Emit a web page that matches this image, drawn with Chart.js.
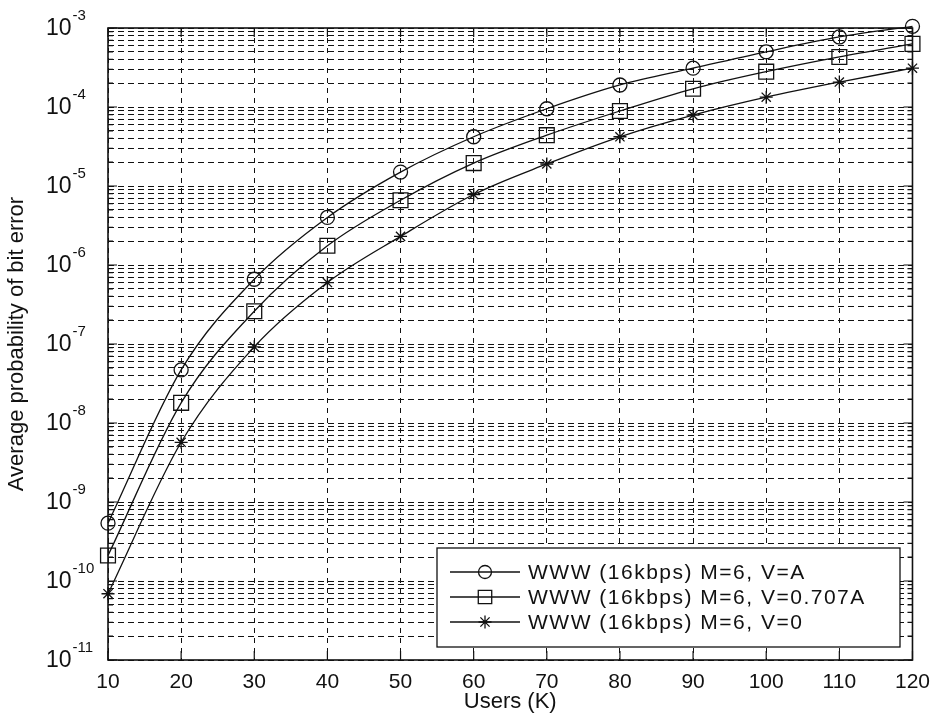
<!DOCTYPE html>
<html>
<head>
<meta charset="utf-8">
<script src="https://cdn.jsdelivr.net/npm/chart.js@4.4.1/dist/chart.umd.min.js"></script>
<style>
  html, body { margin: 0; padding: 0; background: #fff; }
  #wrap { width: 940px; height: 727px; }
</style>
</head>
<body>
<div id="wrap"><canvas id="ber" width="940" height="727"></canvas></div>
<script>
// Number of simultaneous users K
const users = [10, 20, 30, 40, 50, 60, 70, 80, 90, 100, 110, 120];

// Average bit error probability, WWW traffic (16 kbps), M = 6
const berVeqA     = [5.4e-10, 4.7e-8, 6.6e-7, 4.0e-6, 1.5e-5, 4.2e-5, 9.5e-5, 1.9e-4, 3.1e-4, 5.0e-4, 7.7e-4, 1.05e-3];
const berVeq0707A = [2.1e-10, 1.8e-8, 2.6e-7, 1.75e-6, 6.6e-6, 1.95e-5, 4.4e-5, 8.9e-5, 1.7e-4, 2.8e-4, 4.3e-4, 6.3e-4];
const berVeq0     = [6.9e-11, 5.7e-9, 9.2e-8, 6.0e-7, 2.3e-6, 7.8e-6, 1.9e-5, 4.2e-5, 7.9e-5, 1.33e-4, 2.07e-4, 3.1e-4];

const seriesLabels = [
  'WWW (16kbps) M=6, V=A',
  'WWW (16kbps) M=6, V=0.707A',
  'WWW (16kbps) M=6, V=0'
];

// Decade exponents on the y axis
const yExponents = [-11, -10, -9, -8, -7, -6, -5, -4, -3];
const xTicks = users;

const FONT = "'Liberation Sans', Arial, Helvetica, sans-serif";
const INK = '#111';

function toPoints(ys) {
  return users.map((u, i) => ({ x: u, y: ys[i] }));
}

function lineSet(label, ys, style, radius) {
  return {
    label: label,
    data: toPoints(ys),
    borderColor: INK,
    borderWidth: 1.3,
    pointStyle: style,
    pointRadius: radius,
    pointBorderColor: INK,
    pointBorderWidth: 1.3,
    pointBackgroundColor: 'rgba(0,0,0,0)',
    cubicInterpolationMode: 'monotone',
    fill: false,
    clip: false
  };
}

const datasets = [
  lineSet(seriesLabels[0], berVeqA, 'circle', 7),
  lineSet(seriesLabels[1], berVeq0707A, 'rect', 10.5),
  lineSet(seriesLabels[2], berVeq0, 'star', 6.5)
];

// Marker glyphs shared by the legend
function drawMarker(ctx, style, x, y, r) {
  ctx.beginPath();
  if (style === 'circle') {
    ctx.arc(x, y, r, 0, Math.PI * 2);
  } else if (style === 'rect') {
    const s = r * Math.SQRT1_2;
    ctx.rect(x - s, y - s, 2 * s, 2 * s);
  } else if (style === 'star') {
    for (let k = 0; k < 4; k++) {
      const a = k * Math.PI / 4;
      ctx.moveTo(x - Math.cos(a) * r, y - Math.sin(a) * r);
      ctx.lineTo(x + Math.cos(a) * r, y + Math.sin(a) * r);
    }
  }
  ctx.stroke();
}

// Log-axis labels of the form 10^n, box, inward ticks and the legend
const axisDecor = {
  id: 'axisDecor',
  afterDraw(chart) {
    const ctx = chart.ctx;
    const area = chart.chartArea;
    const ys = chart.scales.y;
    const xs = chart.scales.x;

    ctx.save();
    ctx.strokeStyle = INK;
    ctx.fillStyle = INK;

    // inward tick marks
    ctx.lineWidth = 1.2;
    ctx.beginPath();
    xs.ticks.forEach(t => {
      const px = xs.getPixelForValue(t.value);
      ctx.moveTo(px, area.bottom); ctx.lineTo(px, area.bottom - 9);
      ctx.moveTo(px, area.top); ctx.lineTo(px, area.top + 9);
    });
    ys.ticks.forEach(t => {
      const py = ys.getPixelForValue(t.value);
      const major = Math.abs(Math.log10(t.value) - Math.round(Math.log10(t.value))) < 1e-9;
      const len = major ? 9 : 5;
      ctx.moveTo(area.left, py); ctx.lineTo(area.left + len, py);
      ctx.moveTo(area.right, py); ctx.lineTo(area.right - len, py);
    });
    ctx.stroke();

    // axes box
    ctx.lineWidth = 1.6;
    ctx.strokeRect(area.left, area.top, area.right - area.left, area.bottom - area.top);

    // y tick labels 10^n
    ctx.textBaseline = 'middle';
    ctx.textAlign = 'left';
    yExponents.forEach(e => {
      const py = ys.getPixelForValue(Math.pow(10, e));
      ctx.font = '23px ' + FONT;
      const base = '10';
      const x0 = 46;
      ctx.fillText(base, x0, py + 1);
      const w = ctx.measureText(base).width;
      ctx.font = '15px ' + FONT;
      ctx.fillText(String(e), x0 + w + 1, py - 12);
    });

    // legend
    const lg = { left: 437, top: 548, right: 900, bottom: 647 };
    ctx.fillStyle = '#fff';
    ctx.fillRect(lg.left, lg.top, lg.right - lg.left, lg.bottom - lg.top);
    ctx.lineWidth = 1.3;
    ctx.strokeStyle = INK;
    ctx.strokeRect(lg.left, lg.top, lg.right - lg.left, lg.bottom - lg.top);
    ctx.fillStyle = INK;
    ctx.font = '21px ' + FONT;
    if ('letterSpacing' in ctx) ctx.letterSpacing = '1.5px';
    const rowY = [572, 597, 622];
    chart.data.datasets.forEach((ds, i) => {
      const y = rowY[i];
      ctx.lineWidth = 1.3;
      ctx.beginPath();
      ctx.moveTo(450, y); ctx.lineTo(520, y);
      ctx.stroke();
      drawMarker(ctx, ds.pointStyle, 485, y, ds.pointStyle === 'rect' ? 9.5 : (ds.pointStyle === 'circle' ? 6.5 : 6.5));
      ctx.fillText(ds.label, 528, y + 1);
    });
    if ('letterSpacing' in ctx) ctx.letterSpacing = '0px';
    ctx.restore();
  }
};

new Chart(document.getElementById('ber'), {
  type: 'line',
  data: { datasets: datasets },
  options: {
    responsive: false,
    animation: false,
    layout: { padding: { top: 28, right: 25, left: 0, bottom: 0 } },
    plugins: {
      legend: { display: false },
      tooltip: { enabled: false }
    },
    scales: {
      x: {
        type: 'linear',
        min: 10,
        max: 120,
        afterBuildTicks(scale) {
          scale.ticks = xTicks.map(v => ({ value: v }));
        },
        afterFit(scale) { scale.height = 67; },
        ticks: {
          color: INK,
          font: { family: FONT, size: 21 },
          padding: 10,
          maxRotation: 0,
          autoSkip: false,
          callback: v => String(v)
        },
        grid: { color: INK, lineWidth: 1, drawTicks: false },
        border: { display: false, dash: [5, 5] },
        title: {
          display: true,
          text: 'Users (K)',
          color: INK,
          font: { family: FONT, size: 22 },
          padding: { top: 0, bottom: 12 }
        }
      },
      y: {
        type: 'logarithmic',
        min: 1e-11,
        max: 1e-3,
        afterBuildTicks(scale) {
          const t = [];
          for (let e = -11; e < -3; e++) {
            for (let k = 1; k <= 9; k++) t.push({ value: k * Math.pow(10, e) });
          }
          t.push({ value: 1e-3 });
          scale.ticks = t;
        },
        afterFit(scale) { scale.width = 108; },
        ticks: { display: false, autoSkip: false },
        grid: { color: INK, lineWidth: 1, drawTicks: false },
        border: { display: false, dash: [6, 4] },
        title: {
          display: true,
          text: 'Average probability of bit error',
          color: INK,
          font: { family: FONT, size: 22 },
          padding: { top: 4, bottom: 0 }
        }
      }
    }
  },
  plugins: [axisDecor]
});
</script>
</body>
</html>
